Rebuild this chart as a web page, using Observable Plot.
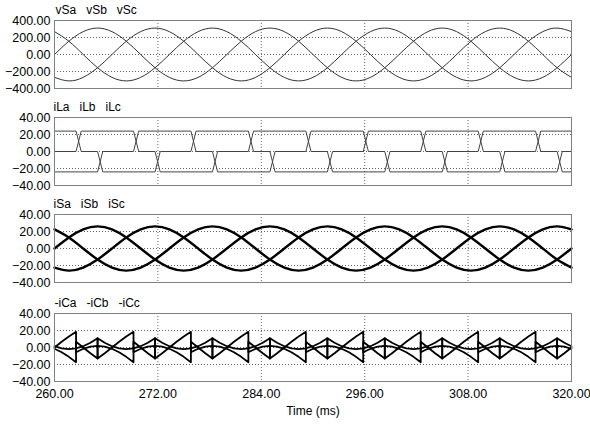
<!DOCTYPE html>
<html><head><meta charset="utf-8">
<script src="https://cdn.jsdelivr.net/npm/d3@7"></script>
<script src="https://cdn.jsdelivr.net/npm/@observablehq/plot@0.6"></script>
<style>
body{margin:0;background:#fff;}
#chart{width:590px;height:424px;overflow:hidden;}
#chart svg{display:block;}
</style></head><body><div id="chart"></div>
<script>
const xTicks = [260, 272, 284, 296, 308, 320];
const vTicks = [-400, -200, 0, 200, 400];
const iTicks = [-40, -20, 0, 20, 40];

const labelsV = ["vSa", "vSb", "vSc"];
const labelsL = ["iLa", "iLb", "iLc"];
const labelsS = ["iSa", "iSb", "iSc"];
const labelsC = ["-iCa", "-iCb", "-iCc"];

// sampled every 1.667 ms (30 deg of 50 Hz)
const sineTimes = [260, 261.67, 263.33, 265, 266.67, 268.33, 270, 271.67, 273.33, 275, 276.67, 278.33,
  280, 281.67, 283.33, 285, 286.67, 288.33, 290, 291.67, 293.33, 295, 296.67, 298.33,
  300, 301.67, 303.33, 305, 306.67, 308.33, 310, 311.67, 313.33, 315, 316.67, 318.33, 320];

const vSa = [0, 156, 269, 311, 269, 156, 0, -156, -269, -311, -269, -156,
  0, 156, 269, 311, 269, 156, 0, -156, -269, -311, -269, -156,
  0, 156, 269, 311, 269, 156, 0, -156, -269, -311, -269, -156, 0];
const vSb = [-269, -311, -269, -156, 0, 156, 269, 311, 269, 156, 0, -156,
  -269, -311, -269, -156, 0, 156, 269, 311, 269, 156, 0, -156,
  -269, -311, -269, -156, 0, 156, 269, 311, 269, 156, 0, -156, -269];
const vSc = [269, 156, 0, -156, -269, -311, -269, -156, 0, 156, 269, 311,
  269, 156, 0, -156, -269, -311, -269, -156, 0, 156, 269, 311,
  269, 156, 0, -156, -269, -311, -269, -156, 0, 156, 269, 311, 269];

const iSa = [0, 13, 22.5, 26, 22.5, 13, 0, -13, -22.5, -26, -22.5, -13,
  0, 13, 22.5, 26, 22.5, 13, 0, -13, -22.5, -26, -22.5, -13,
  0, 13, 22.5, 26, 22.5, 13, 0, -13, -22.5, -26, -22.5, -13, 0];
const iSb = [-22.5, -26, -22.5, -13, 0, 13, 22.5, 26, 22.5, 13, 0, -13,
  -22.5, -26, -22.5, -13, 0, 13, 22.5, 26, 22.5, 13, 0, -13,
  -22.5, -26, -22.5, -13, 0, 13, 22.5, 26, 22.5, 13, 0, -13, -22.5];
const iSc = [22.5, 13, 0, -13, -22.5, -26, -22.5, -13, 0, 13, 22.5, 26,
  22.5, 13, 0, -13, -22.5, -26, -22.5, -13, 0, 13, 22.5, 26,
  22.5, 13, 0, -13, -22.5, -26, -22.5, -13, 0, 13, 22.5, 26, 22.5];

// load currents: breakpoints (start / end of each commutation)
const iLTimes = [260, 262.5, 263.1, 265, 265.6, 269.17, 269.77, 271.67, 272.27, 275.83, 276.43, 278.33, 278.93,
  282.5, 283.1, 285, 285.6, 289.17, 289.77, 291.67, 292.27, 295.83, 296.43, 298.33, 298.93,
  302.5, 303.1, 305, 305.6, 309.17, 309.77, 311.67, 312.27, 315.83, 316.43, 318.33, 318.93, 320];
const iLa = [0, 0, 24, 24, 24, 24, 0, 0, -24, -24, -24, -24, 0,
  0, 24, 24, 24, 24, 0, 0, -24, -24, -24, -24, 0,
  0, 24, 24, 24, 24, 0, 0, -24, -24, -24, -24, 0, 0];
const iLb = [-24, -24, -24, -24, 0, 0, 24, 24, 24, 24, 0, 0, -24,
  -24, -24, -24, 0, 0, 24, 24, 24, 24, 0, 0, -24,
  -24, -24, -24, 0, 0, 24, 24, 24, 24, 0, 0, -24, -24];
const iLc = [24, 24, 0, 0, -24, -24, -24, -24, 0, 0, 24, 24, 24,
  24, 0, 0, -24, -24, -24, -24, 0, 0, 24, 24, 24,
  24, 0, 0, -24, -24, -24, -24, 0, 0, 24, 24, 24, 24];

// compensating currents: breakpoints
const iCTimes = [260, 260.83, 261.67, 262.5, 262.5, 263.33, 264.17, 265, 265, 265.83, 266.67, 267.5, 268.33, 269.17, 269.17,
  270, 270.83, 271.67, 271.67, 272.5, 273.33, 274.17, 275, 275.83, 275.83, 276.67, 277.5, 278.33, 278.33, 279.17,
  280, 280.83, 281.67, 282.5, 282.5, 283.33, 284.17, 285, 285, 285.83, 286.67, 287.5, 288.33, 289.17, 289.17,
  290, 290.83, 291.67, 291.67, 292.5, 293.33, 294.17, 295, 295.83, 295.83, 296.67, 297.5, 298.33, 298.33, 299.17,
  300, 300.83, 301.67, 302.5, 302.5, 303.33, 304.17, 305, 305, 305.83, 306.67, 307.5, 308.33, 309.17, 309.17,
  310, 310.83, 311.67, 311.67, 312.5, 313.33, 314.17, 315, 315.83, 315.83, 316.67, 317.5, 318.33, 318.33, 319.17, 320];
const niCa = [0, 6.7, 13, 18.4, -5.6, -1.5, 1.1, 2, 2, 1.1, -1.5, -5.6, -11, -17.3, 6.7,
  0, -6.7, -13, 11, 5.6, 1.5, -1.1, -2, -1.1, -1.1, 1.5, 5.6, 11, -13, -6.7,
  0, 6.7, 13, 18.4, -5.6, -1.5, 1.1, 2, 2, 1.1, -1.5, -5.6, -11, -17.3, 6.7,
  0, -6.7, -13, 11, 5.6, 1.5, -1.1, -2, -1.1, -1.1, 1.5, 5.6, 11, -13, -6.7,
  0, 6.7, 13, 18.4, -5.6, -1.5, 1.1, 2, 2, 1.1, -1.5, -5.6, -11, -17.3, 6.7,
  0, -6.7, -13, 11, 5.6, 1.5, -1.1, -2, -1.1, -1.1, 1.5, 5.6, 11, -13, -6.7, 0];
const niCb = [1.5, -1.1, -2, -1.1, -1.1, 1.5, 5.6, 11, -13, -6.7, 0, 6.7, 13, 18.4, -5.6,
  -1.5, 1.1, 2, 2, 1.1, -1.5, -5.6, -11, -17.3, 6.7, 0, -6.7, -13, 11, 5.6,
  1.5, -1.1, -2, -1.1, -1.1, 1.5, 5.6, 11, -13, -6.7, 0, 6.7, 13, 18.4, -5.6,
  -1.5, 1.1, 2, 2, 1.1, -1.5, -5.6, -11, -17.3, 6.7, 0, -6.7, -13, 11, 5.6,
  1.5, -1.1, -2, -1.1, -1.1, 1.5, 5.6, 11, -13, -6.7, 0, 6.7, 13, 18.4, -5.6,
  -1.5, 1.1, 2, 2, 1.1, -1.5, -5.6, -11, -17.3, 6.7, 0, -6.7, -13, 11, 5.6, 1.5];
const niCc = [-1.5, -5.6, -11, -17.3, 6.7, 0, -6.7, -13, 11, 5.6, 1.5, -1.1, -2, -1.1, -1.1,
  1.5, 5.6, 11, -13, -6.7, 0, 6.7, 13, 18.4, -5.6, -1.5, 1.1, 2, 2, 1.1,
  -1.5, -5.6, -11, -17.3, 6.7, 0, -6.7, -13, 11, 5.6, 1.5, -1.1, -2, -1.1, -1.1,
  1.5, 5.6, 11, -13, -6.7, 0, 6.7, 13, 18.4, -5.6, -1.5, 1.1, 2, 2, 1.1,
  -1.5, -5.6, -11, -17.3, 6.7, 0, -6.7, -13, 11, 5.6, 1.5, -1.1, -2, -1.1, -1.1,
  1.5, 5.6, 11, -13, -6.7, 0, 6.7, 13, 18.4, -5.6, -1.5, 1.1, 2, 2, 1.1, -1.5];

function tidy(times, cols, names) {
  const rows = [];
  cols.forEach((col, j) => col.forEach((v, i) => rows.push({t: times[i], v, s: names[j]})));
  return rows;
}

const FONT = "'Liberation Sans', Arial, Helvetica, sans-serif";
const NB = "\u00a0\u00a0\u00a0";

function panel(o) {
  const marks = [
    Plot.gridY(o.ticks.slice(1, -1), {stroke: "#666", strokeOpacity: 1, strokeDasharray: "1,2"}),
    Plot.gridX(xTicks.slice(1, -1), {stroke: "#666", strokeOpacity: 1, strokeDasharray: "1,2"}),
    Plot.line(o.data, {x: "t", y: "v", z: "s", stroke: o.stroke, strokeWidth: o.strokeWidth, curve: o.curve}),
    Plot.frame({stroke: "#808080"}),
    Plot.axisY(o.ticks, {tickSize: 0, tickPadding: 4, tickFormat: d3.format(".2f"), label: null}),
    Plot.text([o.labels.join(NB)], {text: d => d, frameAnchor: "top-left", dx: o.labelDx, dy: -10,
      lineAnchor: "middle", textAnchor: "start", fontSize: 12})
  ];
  if (o.bottom) {
    marks.push(Plot.axisX(xTicks, {tickSize: 0, tickPadding: 8, tickFormat: d3.format(".2f"), label: null}));
    marks.push(Plot.text(["Time (ms)"], {text: d => d, frameAnchor: "bottom", dy: 30, lineAnchor: "middle", fontSize: 12}));
  }
  return Plot.plot({
    width: 590, height: o.height,
    marginLeft: 54, marginRight: 19, marginTop: o.marginTop, marginBottom: o.marginBottom,
    style: {fontFamily: FONT, fontSize: "12.5px", background: "#fff", color: "#000", overflow: "visible"},
    x: {domain: [260, 320], axis: o.bottom ? undefined : null},
    y: {domain: [o.ticks[0], o.ticks[o.ticks.length - 1]]},
    marks
  });
}

const chart = document.getElementById("chart");
chart.append(panel({data: tidy(sineTimes, [vSa, vSb, vSc], labelsV), labels: labelsV, labelDx: 1,
  ticks: vTicks, stroke: "#333", strokeWidth: 1, curve: "natural", height: 97, marginTop: 20, marginBottom: 9}));
chart.append(panel({data: tidy(iLTimes, [iLa, iLb, iLc], labelsL), labels: labelsL, labelDx: -1,
  ticks: iTicks, stroke: "#444", strokeWidth: 1, curve: "linear", height: 97, marginTop: 20, marginBottom: 9}));
chart.append(panel({data: tidy(sineTimes, [iSa, iSb, iSc], labelsS), labels: labelsS, labelDx: -1,
  ticks: iTicks, stroke: "#000", strokeWidth: 2.4, curve: "natural", height: 97, marginTop: 20, marginBottom: 9}));
chart.append(panel({data: tidy(iCTimes, [niCa, niCb, niCc], labelsC), labels: labelsC, labelDx: 0,
  ticks: iTicks, stroke: "#000", strokeWidth: 1.8, curve: "linear", height: 133, marginTop: 22, marginBottom: 43, bottom: true}));
</script></body></html>
